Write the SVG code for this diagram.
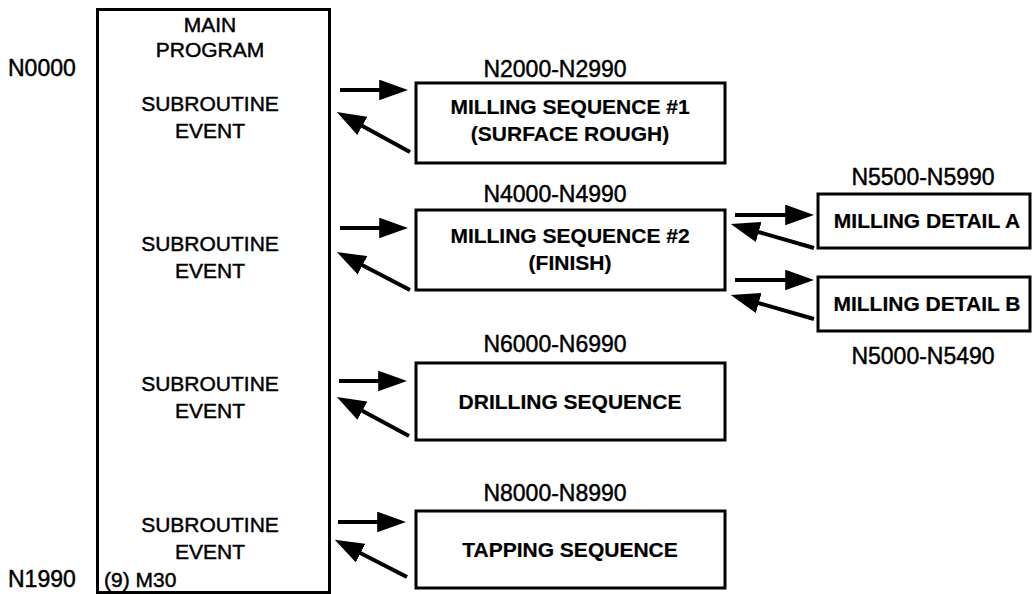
<svg xmlns="http://www.w3.org/2000/svg" width="1032" height="594" viewBox="0 0 1032 594">
<defs>
<marker id="ah" viewBox="0 0 28 20" refX="22" refY="10" markerWidth="29" markerHeight="21" markerUnits="userSpaceOnUse" orient="auto"><path d="M0,0 L28,10 L0,20 z" fill="#000"/></marker>
</defs>
<style>
.box{fill:#fff;stroke:#000;stroke-width:3}
.t{font-family:"Liberation Sans",Arial,Helvetica,sans-serif;font-size:21px;fill:#000;stroke:#000;stroke-width:0.45}
.b{font-weight:bold;stroke-width:0.2}
.m{text-anchor:middle}
.lbl{font-size:23px}
.arr{stroke:#000;stroke-width:4;fill:none;marker-end:url(#ah)}
</style>
<rect width="1032" height="594" fill="#fff"/>
<g id="main">
<rect class="box" x="97.5" y="9.5" width="232" height="583"/>
<text class="t m" x="210" y="32">MAIN</text>
<text class="t m" x="210" y="57">PROGRAM</text>
<text class="t m" x="210" y="111">SUBROUTINE</text>
<text class="t m" x="210" y="138">EVENT</text>
<text class="t m" x="210" y="251">SUBROUTINE</text>
<text class="t m" x="210" y="278">EVENT</text>
<text class="t m" x="210" y="391">SUBROUTINE</text>
<text class="t m" x="210" y="418">EVENT</text>
<text class="t m" x="210" y="532">SUBROUTINE</text>
<text class="t m" x="210" y="559">EVENT</text>
<text class="t" x="104" y="587">(9) M30</text>
</g>
<g id="main-labels">
<text class="t lbl" x="8" y="76">N0000</text>
<text class="t lbl" x="8" y="587">N1990</text>
</g>
<g id="mill1">
<text class="t lbl m" x="555" y="77">N2000-N2990</text>
<rect class="box" x="416" y="83" width="309" height="80"/>
<text class="t b m" x="570" y="114">MILLING SEQUENCE #1</text>
<text class="t b m" x="570" y="141">(SURFACE ROUGH)</text>
</g>
<g id="mill2">
<text class="t lbl m" x="555" y="202">N4000-N4990</text>
<rect class="box" x="416" y="210" width="309" height="80"/>
<text class="t b m" x="570" y="243">MILLING SEQUENCE #2</text>
<text class="t b m" x="570" y="270">(FINISH)</text>
</g>
<g id="drill">
<text class="t lbl m" x="555" y="352">N6000-N6990</text>
<rect class="box" x="416" y="363" width="309" height="77"/>
<text class="t b m" x="570" y="409">DRILLING SEQUENCE</text>
</g>
<g id="tap">
<text class="t lbl m" x="555" y="501">N8000-N8990</text>
<rect class="box" x="416" y="511" width="309" height="77"/>
<text class="t b m" x="570" y="557">TAPPING SEQUENCE</text>
</g>
<g id="detailA">
<text class="t lbl m" x="923" y="185">N5500-N5990</text>
<rect class="box" x="818" y="194" width="212" height="54"/>
<text class="t b m" x="927" y="228">MILLING DETAIL A</text>
</g>
<g id="detailB">
<rect class="box" x="818" y="277" width="212" height="54"/>
<text class="t b m" x="927" y="311">MILLING DETAIL B</text>
<text class="t lbl m" x="923" y="364">N5000-N5490</text>
</g>
<g id="connectors">
<path class="arr" d="M340,90 H402"/>
<path class="arr" d="M410,152 L342.3,114.9"/>
<path class="arr" d="M340,228 H402"/>
<path class="arr" d="M410,290 L342.3,254.8"/>
<path class="arr" d="M339,381 H401"/>
<path class="arr" d="M409,436 L342.3,399.9"/>
<path class="arr" d="M338,522 H400"/>
<path class="arr" d="M407,577 L340.3,542.7"/>
<path class="arr" d="M735,215 H808"/>
<path class="arr" d="M814,248 L736.8,225.7"/>
<path class="arr" d="M735,280 H808"/>
<path class="arr" d="M814,319 L736.8,296.7"/>
</g>
</svg>
